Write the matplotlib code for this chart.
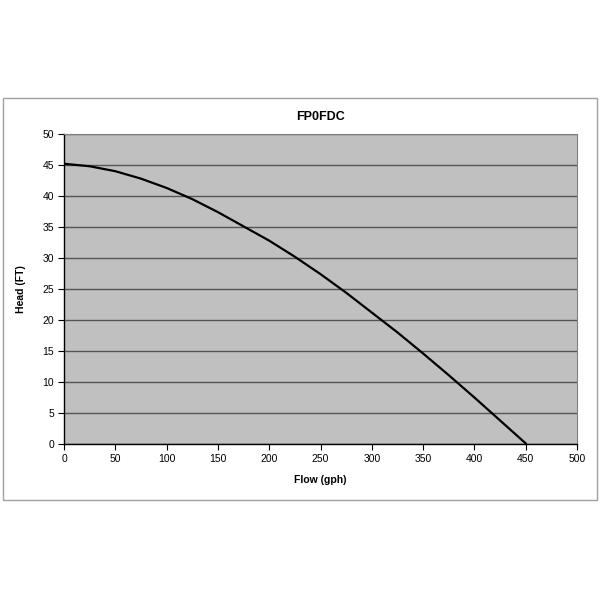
import matplotlib
matplotlib.use('Agg')
import matplotlib.pyplot as plt
from matplotlib.patches import Rectangle

flow = [0, 25, 50, 75, 100, 125, 150, 175, 200, 225,
        250, 275, 300, 325, 350, 375, 400, 425, 450]
head = [45.2, 44.8, 44.0, 42.8, 41.3, 39.5, 37.4, 35.1, 32.8, 30.2,
        27.4, 24.4, 21.2, 18.0, 14.6, 11.1, 7.5, 3.8, 0.1]
title = 'FP0FDC'

plt.rcParams['font.family'] = ['Liberation Sans', 'DejaVu Sans']

fig = plt.figure(figsize=(6, 6), dpi=100)
# light grey frame around the whole chart
fig.patches.append(Rectangle((3 / 600, 100 / 600), 594 / 600, 402 / 600,
                             transform=fig.transFigure, fill=False,
                             edgecolor='#a0a0a0', linewidth=1))

ax = fig.add_axes([64 / 600, 156 / 600, 513 / 600, 310 / 600])
ax.set_facecolor('#c0c0c0')
ax.plot(flow, head, color='black', linewidth=1.6, zorder=3,
        solid_joinstyle='round')

ax.set_xlim(0, 500)
ax.set_ylim(0, 50)
ax.set_xticks(range(0, 501, 50))
ax.set_yticks(range(0, 51, 5))
ax.yaxis.grid(True, color='#555555', linewidth=1)
ax.set_axisbelow(True)

for s in ['top', 'right']:
    ax.spines[s].set_color('#808080')
for s in ['left', 'bottom']:
    ax.spines[s].set_color('black')
    ax.spines[s].set_linewidth(1)
ax.tick_params(direction='out', length=4, width=0.8, labelsize=7.5, pad=3)

ax.set_title(title, fontsize=9, fontweight='bold', pad=10)
ax.set_xlabel('Flow (gph)', fontsize=7.5, fontweight='bold', labelpad=8)
ax.set_ylabel('Head (FT)', fontsize=7.5, fontweight='bold', labelpad=12)

fig.savefig('out.png', dpi=100)
